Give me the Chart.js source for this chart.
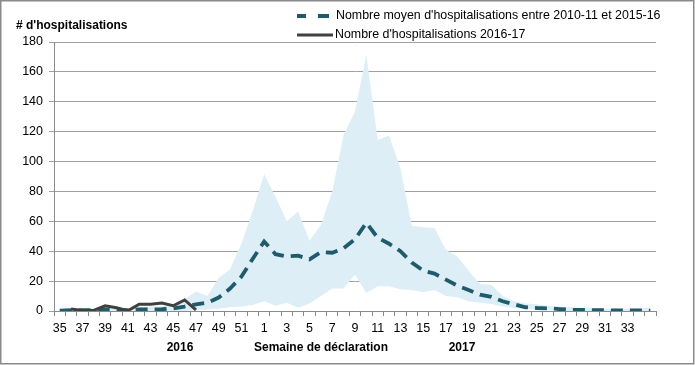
<!DOCTYPE html>
<html>
<head>
<meta charset="utf-8">
<script src="https://cdn.jsdelivr.net/npm/chart.js@4.4.0/dist/chart.umd.min.js"></script>
<style>
  html, body { margin: 0; padding: 0; background: #fff; }
</style>
</head>
<body>
<canvas id="hospChart" width="695" height="365"></canvas>
<script>
// weeks 35-52 of 2016, then 1-35 of 2017
const weeks = ['35','36','37','38','39','40','41','42','43','44','45','46','47','48','49','50','51','52',
  '1','2','3','4','5','6','7','8','9','10','11','12','13','14','15','16','17','18','19','20',
  '21','22','23','24','25','26','27','28','29','30','31','32','33','34','35'];

// mean number of hospitalisations 2010-11 to 2015-16
const meanValues = [0.3,0.5,0.5,0.7,1,0.7,0.5,1,1,1.2,1.8,3,4.5,5.5,9,15,23,35,
  46.5,38,36.5,37,34.5,39.5,39,42,48,59,49,45,40,32.5,27,25,21,17,14,11,
  9.5,6.5,4.5,2.5,2,1.8,1.3,0.8,0.8,0.6,0.5,0.4,0.4,0.4,0.3];

// min / max band over the previous seasons
const bandMax = [1,1.5,1.5,1.5,2,1.5,1.5,2.5,3,3,5,8,13,10,22,28,45,67,
  91.5,76.5,60,66.5,47,57.5,80,118,133.5,171.5,114.5,117.5,95.5,57,56,55.5,41,36.5,27,18,
  17.5,10,6.5,5,4.5,3.5,3,2.5,2,2,1.5,1.5,1.5,1.5,2.5];
const bandMin = [0,0,0,0,0,0,0,0,0,0,0,0,0.5,1,1.5,2.5,3,4,
  6.5,3.5,5.5,2.2,5,10,15,15,24.5,12,16.5,16.5,14.5,14,12.5,14,10,9.2,6.5,5.5,
  4.7,3,2,1.5,1,0.5,0,0,0,0,0,0,0,0,0];

// season 2016-17 (available up to week 47)
const season2016 = [null,1.3,0.4,0.4,3.5,2.2,0.2,4.5,4.5,5.3,3.5,7.4,0.7];

const yTicks = [0, 20, 40, 60, 80, 100, 120, 140, 160, 180];

const FONT = "'Liberation Sans', Arial, sans-serif";
const meanLabel = "Nombre moyen d'hospitalisations entre 2010-11 et 2015-16";
const seasonLabel = "Nombre d'hospitalisations 2016-17";

// texts, legend and frame drawn around the plot
const decor = {
  id: 'decor',
  beforeDraw(chart) {
    const c = chart.ctx;
    c.save();
    c.fillStyle = '#fff';
    c.fillRect(0, 0, chart.width, chart.height);
    c.restore();
  },
  afterDraw(chart) {
    const c = chart.ctx;
    c.save();
    c.fillStyle = '#000';
    c.textBaseline = 'middle';
    c.font = 'bold 12px ' + FONT;
    c.fillText("# d'hospitalisations", 16, 26);

    c.textAlign = 'center';
    c.fillText('2016', 180, 348);
    c.fillText('Semaine de déclaration', 321, 348);
    c.fillText('2017', 462, 348);

    // legend
    c.textAlign = 'left';
    c.font = '12.4px ' + FONT;
    c.fillText(meanLabel, 336, 16);
    c.fillText(seasonLabel, 335, 35);
    c.lineWidth = 3.8;
    c.strokeStyle = '#1f5b6b';
    c.beginPath();
    c.moveTo(297, 16); c.lineTo(306, 16);
    c.moveTo(318, 16); c.lineTo(329, 16);
    c.stroke();
    c.lineWidth = 3;
    c.strokeStyle = '#404040';
    c.beginPath();
    c.moveTo(297, 35); c.lineTo(333, 35);
    c.stroke();

    // outer frame
    c.lineWidth = 1.5;
    c.strokeStyle = '#8a8a8a';
    c.strokeRect(0.75, 0.75, chart.width - 2, chart.height - 2);
    c.restore();
  }
};

new Chart(document.getElementById('hospChart'), {
  type: 'line',
  data: {
    labels: weeks,
    datasets: [
      {
        label: seasonLabel,
        data: season2016,
        borderColor: '#404040',
        borderWidth: 3,
        pointRadius: 0,
        tension: 0,
        fill: false
      },
      {
        label: meanLabel,
        data: meanValues,
        borderColor: '#1f5b6b',
        borderWidth: 3.8,
        borderDash: [12, 7],
        pointRadius: 0,
        tension: 0,
        fill: false
      },
      {
        label: 'max',
        data: bandMax,
        borderWidth: 0,
        borderColor: 'rgba(0,0,0,0)',
        backgroundColor: '#ddeef6',
        pointRadius: 0,
        tension: 0,
        fill: '+1'
      },
      {
        label: 'min',
        data: bandMin,
        borderWidth: 0,
        borderColor: 'rgba(0,0,0,0)',
        pointRadius: 0,
        tension: 0,
        fill: false
      }
    ]
  },
  options: {
    responsive: false,
    animation: false,
    layout: { padding: { left: 0, right: 39, top: 42, bottom: 0 } },
    plugins: {
      legend: { display: false },
      tooltip: { enabled: false }
    },
    scales: {
      x: {
        offset: true,
        afterFit(scale) { scale.height = 54; },
        grid: {
          offset: true,
          drawOnChartArea: false,
          tickLength: 5,
          color: '#8a8a8a'
        },
        border: { color: '#8a8a8a', width: 1 },
        ticks: {
          autoSkip: false,
          maxRotation: 0,
          padding: 5,
          color: '#000',
          font: { family: FONT, size: 12.5 },
          callback(value, index) {
            // every second week, the last week has no label
            return index % 2 === 0 && index < weeks.length - 1 ? weeks[index] : '';
          }
        }
      },
      y: {
        min: yTicks[0],
        max: yTicks[yTicks.length - 1],
        afterFit(scale) { scale.width = 54; },
        afterBuildTicks(scale) { scale.ticks = yTicks.map(v => ({ value: v })); },
        grid: {
          tickLength: 5,
          color: '#a0a0a0'
        },
        border: { color: '#8a8a8a', width: 1 },
        ticks: {
          padding: 6,
          color: '#000',
          font: { family: FONT, size: 12.5 }
        }
      }
    }
  },
  plugins: [decor]
});
</script>
</body>
</html>
